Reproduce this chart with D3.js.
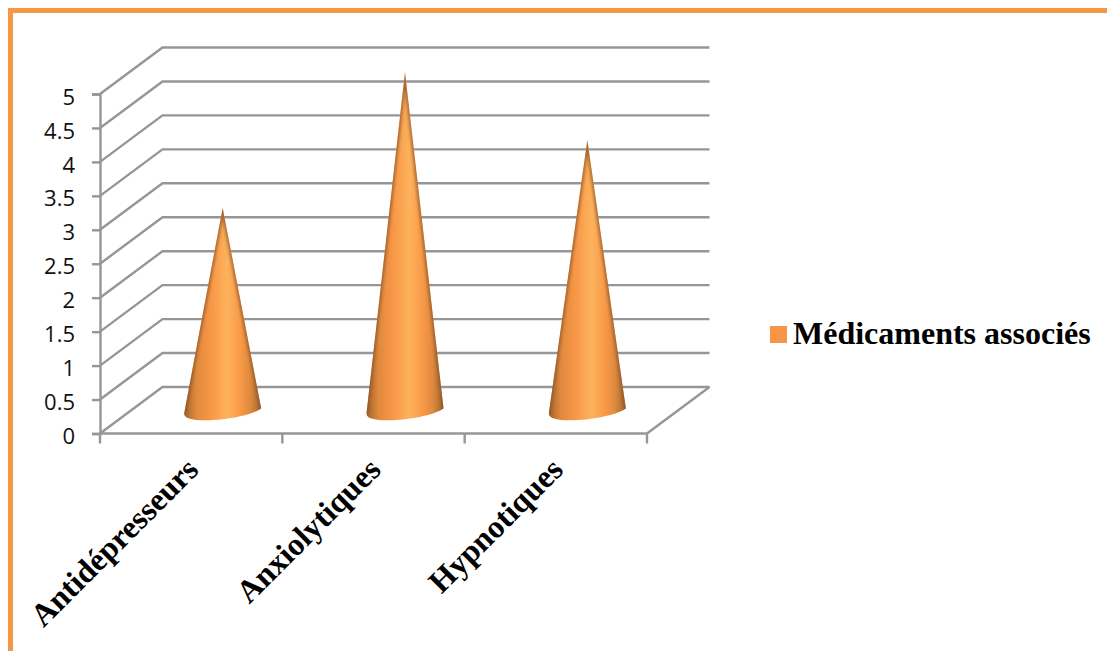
<!DOCTYPE html>
<html>
<head>
<meta charset="utf-8">
<script src="https://cdnjs.cloudflare.com/ajax/libs/d3/7.8.5/d3.min.js"></script>
<style>
html,body{margin:0;padding:0;background:#fff;overflow:hidden}
svg{display:block}
</style>
</head>
<body>
<svg id="chart" width="1107" height="651"></svg>
<script>
// Chart data
const categories = ["Antidépresseurs", "Anxiolytiques", "Hypnotiques"];
const seriesValues = [3, 5, 4];
const seriesName = "Médicaments associés";
const yTicks = [0, 0.5, 1, 1.5, 2, 2.5, 3, 3.5, 4, 4.5, 5];

const gridColor = "#969696";
const orange = "#F79646";

// Plot box: front plane of the pseudo-3D frame plus the depth shift
const front = {left: 100, right: 647, top: 94, bottom: 433.5};
const depth = {dx: 62.5, dy: -46.5};
const coneShift = {dx: 31.5, dy: -22};
const coneHalfWidth = 38.5;

const svg = d3.select("#chart");
const x = d3.scaleBand().domain(categories).range([front.left, front.right]);
const y = d3.scaleLinear().domain([0, 5]).range([front.bottom, front.top]);

// Cone shading runs across the width: dark rim, bright core, dark rim
const defs = svg.append("defs");
const grad = defs.append("linearGradient").attr("id", "coneFill")
  .attr("x1", 0).attr("x2", 1).attr("y1", 0).attr("y2", 0);
[[0, "#9c5f2c"], [0.05, "#b87032"], [0.16, "#e08a3e"], [0.34, "#f79646"], [0.56, "#fdb25c"],
 [0.72, "#f99b49"], [0.86, "#df893d"], [0.96, "#b47033"], [1, "#97592a"]]
  .forEach(([o, c]) => grad.append("stop").attr("offset", o).attr("stop-color", c));
defs.append("filter").attr("id", "soft")
  .attr("x", "-10%").attr("y", "-10%").attr("width", "120%").attr("height", "120%")
  .append("feGaussianBlur").attr("stdDeviation", 0.5);
defs.append("filter").attr("id", "rimBlur")
  .attr("x", "-30%").attr("y", "-10%").attr("width", "160%").attr("height", "120%")
  .append("feGaussianBlur").attr("stdDeviation", 1.6);

// Outer frame, open on the right and at the bottom
svg.append("path")
  .attr("d", "M10.5,651V10.5H1107")
  .attr("fill", "none").attr("stroke", orange).attr("stroke-width", 5);

// Back wall, side wall and floor lines
const frame = svg.append("g").attr("fill", "none").attr("stroke", gridColor).attr("stroke-width", 2.4);
frame.selectAll("path.grid").data(yTicks).join("path").attr("class", "grid")
  .attr("d", t => {
    const p = d3.path();
    p.moveTo(front.left, y(t));
    p.lineTo(front.left + depth.dx, y(t) + depth.dy);
    p.lineTo(front.right + depth.dx, y(t) + depth.dy);
    return p.toString();
  });
frame.append("line")
  .attr("x1", front.right).attr("y1", y(0))
  .attr("x2", front.right + depth.dx).attr("y2", y(0) + depth.dy);

// Value axis
const yAxis = d3.axisLeft(y).tickValues(yTicks).tickSize(8).tickPadding(17)
  .tickFormat(d3.format("~g"));
const yG = svg.append("g").attr("transform", `translate(${front.left},0)`).call(yAxis);
yG.select(".domain").attr("stroke", gridColor).attr("stroke-width", 2.4);
yG.selectAll(".tick line").attr("stroke", gridColor).attr("stroke-width", 2.4);
yG.selectAll(".tick text")
  .attr("font-family", "'Open Sans', sans-serif").attr("font-size", 22).attr("fill", "#111")
  .attr("dy", "0.46em");

// Category axis with ticks on the band edges
const xG = svg.append("g").attr("transform", `translate(0,${front.bottom})`);
xG.append("line").attr("x1", front.left).attr("x2", front.right)
  .attr("stroke", gridColor).attr("stroke-width", 2.4);
const edges = categories.map(c => x(c)).concat(x.range()[1]);
xG.selectAll("line.tick").data(edges).join("line").attr("class", "tick")
  .attr("x1", d => d).attr("x2", d => d).attr("y1", 0).attr("y2", 10)
  .attr("stroke", gridColor).attr("stroke-width", 2.4);

xG.selectAll("text.cat").data(categories).join("text").attr("class", "cat")
  .attr("text-anchor", "end")
  .attr("transform", c => `translate(${x(c) + x.bandwidth() / 2 + 9},${38}) rotate(-45)`)
  .attr("font-family", "'Liberation Serif', serif").attr("font-weight", "bold")
  .attr("font-size", 32).attr("fill", "#000")
  .text(c => c);

// Cones: the base ellipse leans slightly, as seen in perspective
const coneData = categories.map((c, i) => ({c, v: seriesValues[i], i}));
const coneGeom = d => {
  const cx = x(d.c) + x.bandwidth() / 2 + coneShift.dx;
  return {
    cx,
    base: y(0) + coneShift.dy,
    apexY: y(d.v) + coneShift.dy,
    lx: cx - coneHalfWidth,
    rx: cx + coneHalfWidth
  };
};
const conePath = d => {
  const g = coneGeom(d);
  const p = d3.path();
  p.moveTo(g.cx, g.apexY);
  p.lineTo(g.rx, g.base - 3);
  p.bezierCurveTo(g.rx - 12, g.base + 6, g.cx - 18, g.base + 12, g.lx + 5, g.base + 7);
  p.quadraticCurveTo(g.lx, g.base + 5.5, g.lx, g.base + 2);
  p.closePath();
  return p.toString();
};
defs.selectAll("clipPath").data(coneData).join("clipPath")
  .attr("id", d => `coneClip${d.i}`)
  .append("path").attr("d", conePath);

const cones = svg.append("g").attr("filter", "url(#soft)");
const cone = cones.selectAll("g.cone").data(coneData).join("g").attr("class", "cone");
cone.append("path").attr("fill", "url(#coneFill)").attr("d", conePath);
// Darkened rim following both slanted sides, so the shading narrows toward the tip
cone.append("g").attr("clip-path", d => `url(#coneClip${d.i})`)
  .append("path")
  .attr("fill", "none").attr("stroke", "#8f5528").attr("stroke-width", 4)
  .attr("stroke-opacity", 0.75).attr("filter", "url(#rimBlur)")
  .attr("d", d => {
    const g = coneGeom(d);
    const p = d3.path();
    p.moveTo(g.lx, g.base + 2);
    p.lineTo(g.cx, g.apexY);
    p.lineTo(g.rx, g.base - 3);
    return p.toString();
  });

// Legend
const legend = svg.append("g");
legend.append("rect").attr("x", 770).attr("y", 326).attr("width", 17).attr("height", 17).attr("fill", orange);
legend.append("text").attr("x", 793).attr("y", 344)
  .attr("font-family", "'Liberation Serif', serif").attr("font-weight", "bold")
  .attr("font-size", 32).attr("fill", "#000")
  .text(seriesName);
</script>
</body>
</html>
